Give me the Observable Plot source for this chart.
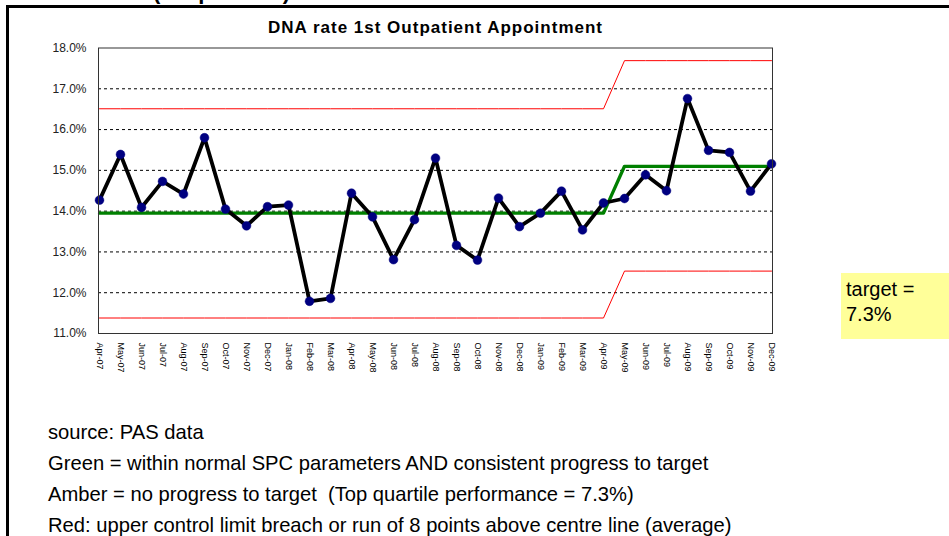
<!DOCTYPE html>
<html>
<head>
<meta charset="utf-8">
<script src="https://cdn.jsdelivr.net/npm/d3@7"></script>
<script src="https://cdn.jsdelivr.net/npm/@observablehq/plot@0.6"></script>
<style>
  html, body { margin: 0; padding: 0; background: #fff; }
  #wrap { position: relative; width: 949px; height: 536px; overflow: hidden; font-family: "Liberation Sans", Arial, sans-serif; }
  #frame { position: absolute; left: 6px; top: 5px; width: 2000px; height: 2000px; border-top: 3px solid #000; border-left: 3px solid #000; }
  #toptitle { position: absolute; left: 0; width: 290px; top: -19px; text-align: right; font-weight: bold; font-size: 22px; line-height: 22px; white-space: nowrap; }
  #chart { position: absolute; left: 0; top: 0; }
  #notes { position: absolute; left: 48px; top: 416.5px; font-size: 20.2px; line-height: 31px; color: #000; white-space: pre; }
  #target { position: absolute; left: 841px; top: 273px; width: 120px; height: 66px; background: #FFFF99; font-size: 20px; line-height: 25px; padding: 4px 0 0 5px; box-sizing: border-box; color: #000; }
</style>
</head>
<body>
<div id="wrap">
  <div id="toptitle">DNA rate (Outpatients)</div>
  <div id="frame"></div>
  <div id="chart"></div>
  <div id="notes"></div>
  <div id="target"></div>
</div>
<script>
const months = ["Apr-07","May-07","Jun-07","Jul-07","Aug-07","Sep-07","Oct-07","Nov-07","Dec-07",
  "Jan-08","Feb-08","Mar-08","Apr-08","May-08","Jun-08","Jul-08","Aug-08","Sep-08","Oct-08","Nov-08","Dec-08",
  "Jan-09","Feb-09","Mar-09","Apr-09","May-09","Jun-09","Jul-09","Aug-09","Sep-09","Oct-09","Nov-09","Dec-09"];

const dnaRate = [14.27,15.39,14.09,14.73,14.42,15.80,14.05,13.64,14.11,
  14.15,11.79,11.86,14.44,13.86,12.81,13.79,15.30,13.16,12.80,14.32,13.62,
  13.95,14.49,13.54,14.20,14.31,14.89,14.50,16.76,15.49,15.44,14.49,15.16];

const centreLine = [13.95,13.95,13.95,13.95,13.95,13.95,13.95,13.95,13.95,
  13.95,13.95,13.95,13.95,13.95,13.95,13.95,13.95,13.95,13.95,13.95,13.95,
  13.95,13.95,13.95,13.95,15.10,15.10,15.10,15.10,15.10,15.10,15.10,15.10];

const upperLimit = [16.51,16.51,16.51,16.51,16.51,16.51,16.51,16.51,16.51,
  16.51,16.51,16.51,16.51,16.51,16.51,16.51,16.51,16.51,16.51,16.51,16.51,
  16.51,16.51,16.51,16.51,17.69,17.69,17.69,17.69,17.69,17.69,17.69,17.69];

const lowerLimit = [11.38,11.38,11.38,11.38,11.38,11.38,11.38,11.38,11.38,
  11.38,11.38,11.38,11.38,11.38,11.38,11.38,11.38,11.38,11.38,11.38,11.38,
  11.38,11.38,11.38,11.38,12.53,12.53,12.53,12.53,12.53,12.53,12.53,12.53];

const yTicks = [11, 12, 13, 14, 15, 16, 17, 18];
const gridLines = [12, 13, 14, 15, 16, 17];

const chartTitle = "DNA rate 1st Outpatient Appointment";
const notes = [
  "source: PAS data",
  "Green = within normal SPC parameters AND consistent progress to target",
  "Amber = no progress to target  (Top quartile performance = 7.3%)",
  "Red: upper control limit breach or run of 8 points above centre line (average)"
];
const targetText = ["target =", "7.3%"];

const rows = months.map((m, i) => ({
  month: m, rate: dnaRate[i], cl: centreLine[i], ucl: upperLimit[i], lcl: lowerLimit[i]
}));

const plot = Plot.plot({
  width: 949,
  height: 380,
  marginLeft: 98,
  marginRight: 177,
  marginTop: 47.5,
  marginBottom: 47,
  style: { fontFamily: "'Liberation Sans', Arial, sans-serif", background: "transparent", overflow: "visible" },
  x: { type: "point", domain: months, padding: 0 },
  y: { domain: [11, 18] },
  marks: [
    Plot.ruleY(gridLines, { stroke: "#000", strokeDasharray: "3,3", strokeWidth: 1 }),
    Plot.lineY(rows, { x: "month", y: "ucl", stroke: "#ff0000", strokeWidth: 1 }),
    Plot.lineY(rows, { x: "month", y: "lcl", stroke: "#ff0000", strokeWidth: 1 }),
    Plot.lineY(rows, { x: "month", y: "cl", stroke: "#008000", strokeWidth: 3.3 }),
    Plot.lineY(rows, { x: "month", y: "rate", stroke: "#000", strokeWidth: 3.8 }),
    Plot.dot(rows, { x: "month", y: "rate", r: 4.4, fill: "#000080", stroke: "#000080", strokeWidth: 0.5 }),
    Plot.frame({ stroke: "#333", strokeWidth: 1 }),
    Plot.axisY({ ticks: yTicks, tickFormat: d => d.toFixed(1) + "%", tickSize: 0, tickPadding: 12, fontSize: 12, fill: "#222", label: null }),
    Plot.axisX({ tickRotate: 90, tickSize: 0, tickPadding: 9, fontSize: 9, fill: "#000", label: null }),
    Plot.text([chartTitle], { frameAnchor: "top", dy: -15.5, text: d => d, fontSize: 17, fontWeight: "bold", fill: "#000", lineAnchor: "bottom" })
  ]
});
document.getElementById("chart").appendChild(plot);

plot.querySelectorAll("text").forEach(t => {
  if (t.textContent === chartTitle) t.style.letterSpacing = "1.0px";
});

const notesEl = document.getElementById("notes");
notes.forEach(n => { const d = document.createElement("div"); d.textContent = n; notesEl.appendChild(d); });
const tEl = document.getElementById("target");
targetText.forEach(n => { const d = document.createElement("div"); d.textContent = n; tEl.appendChild(d); });
</script>
</body>
</html>
